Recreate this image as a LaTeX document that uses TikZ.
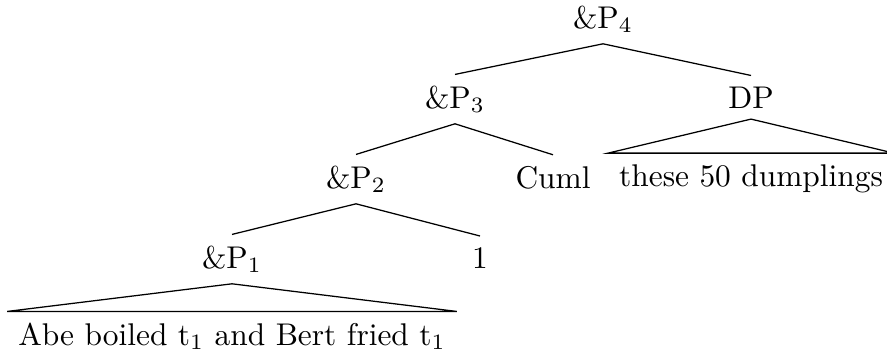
\documentclass[tikz,border=0pt]{standalone}
\begin{document}
\begin{tikzpicture}[x=0.3185pt,y=-0.3185pt,
  lab/.style={anchor=base, inner sep=0.3333em},
  branch/.style={draw, line width=0.4pt}]
\useasboundingbox (0,0) rectangle (887,353);
\node[lab] (p4) at (603,28) {\&P$_4$};
\node[lab] (p3) at (455,108) {\&P$_3$};
\node[lab] (dp) at (751,108) {DP};
\node[lab] (p2) at (356,188) {\&P$_2$};
\node[lab] (cuml) at (553,188) {Cuml};
\node[lab] (dpl) at (751,186) {these 50 dumplings};
\node[lab] (p1) at (232,268) {\&P$_1$};
\node[lab] (one) at (480,268) {1};
\node[lab] (abe) at (232,345) {Abe boiled t$_1$ and Bert fried t$_1$};
\draw[branch] (p4.south) -- (p3.north);
\draw[branch] (p4.south) -- (dp.north);
\draw[branch] (p3.south) -- (p2.north);
\draw[branch] (p3.south) -- (cuml.north);
\draw[branch] (p2.south) -- (p1.north);
\draw[branch] (p2.south) -- (one.north);
\draw[branch] (dp.south) -- (dpl.north east) -- (dpl.north west) -- cycle;
\draw[branch] (p1.south) -- (abe.north east) -- (abe.north west) -- cycle;
\end{tikzpicture}
\end{document}
